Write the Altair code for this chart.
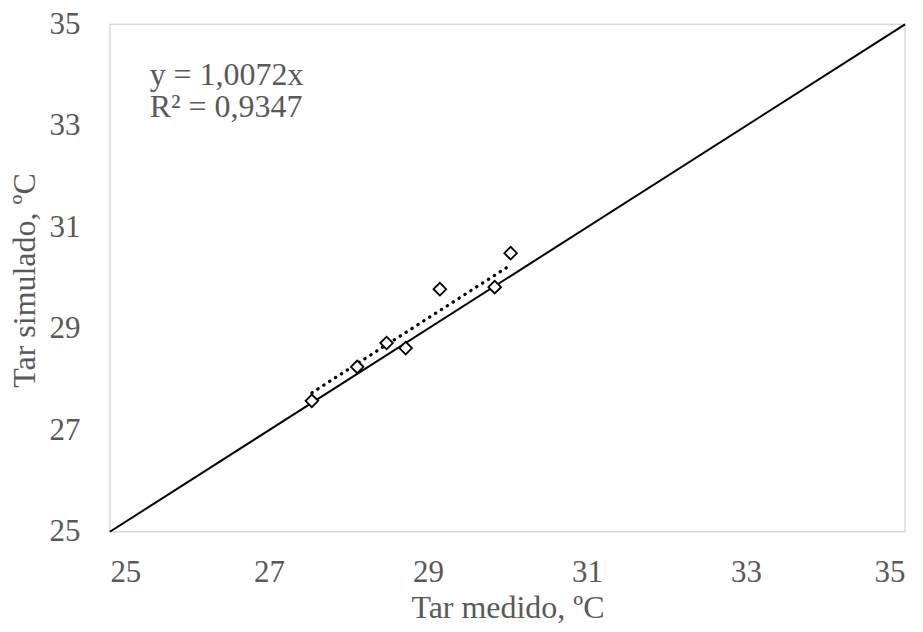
import altair as alt
import pandas as pd

# Data
measured = [27.54, 28.11, 28.48, 28.72, 29.15, 29.84, 30.04]
simulated = [27.58, 28.25, 28.72, 28.62, 29.78, 29.82, 30.49]
slope = 1.0072
identity_x = [25, 35]
x_ticks = [25, 27, 29, 31, 33, 35]
y_ticks = [25, 27, 29, 31, 33, 35]
eq_lines = ["y = 1,0072x", "R² = 0,9347"]

FONT = "Liberation Serif"
GRAY = "#595959"
LFS = 31
TFS = 32

pts = pd.DataFrame({"x": measured, "y": simulated})
ident = pd.DataFrame({"x": identity_x, "y": identity_x})
trend_x = [min(measured), max(measured)]
trend = pd.DataFrame({"x": trend_x, "y": [slope * v for v in trend_x]})
eq = pd.DataFrame({"x": [25.5, 25.5], "y": [33.80, 33.17], "t": eq_lines})

xs = alt.Scale(domain=[25, 35], nice=False, zero=False)
ys = alt.Scale(domain=[25, 35], nice=False, zero=False)

xax = alt.Axis(values=x_ticks, format="d", title="Tar medido, ºC", grid=False, ticks=False,
               domain=False, labelPadding=50, labelBaseline="alphabetic",
               titleBaseline="alphabetic", titleY=86)
yax = alt.Axis(values=y_ticks, format="d", title="Tar simulado, ºC", grid=False, ticks=False,
               domain=False, labelPadding=30, titleBaseline="alphabetic",
               titleX=-75, titleY=256, titleAngle=270)

line = alt.Chart(ident).mark_line(color="black", strokeWidth=2).encode(
    x=alt.X("x:Q", scale=xs, axis=xax), y=alt.Y("y:Q", scale=ys, axis=yax))

tr = alt.Chart(trend).mark_line(color="black", strokeWidth=3.2, strokeDash=[0.5, 6.5],
                                strokeCap="round").encode(x="x:Q", y="y:Q")

points = alt.Chart(pts).mark_point(shape="diamond", size=160, filled=True, fill="white",
                                   stroke="black", strokeWidth=1.8, opacity=1).encode(
    x="x:Q", y="y:Q")

txt = alt.Chart(eq).mark_text(align="left", baseline="alphabetic", font=FONT, fontSize=TFS,
                              color=GRAY).encode(x="x:Q", y="y:Q", text="t:N")

chart = alt.layer(line, tr, points, txt).properties(
    width=796, height=508,
    autosize=alt.AutoSizeParams(type="none"),
    padding={"left": 102, "top": 16, "right": 10, "bottom": 92},
).configure_view(stroke="#d9d9d9", strokeWidth=1.5).configure_axis(
    labelFont=FONT, titleFont=FONT, labelFontSize=LFS, titleFontSize=TFS,
    labelColor=GRAY, titleColor=GRAY, titleFontWeight="normal"
)

chart.save("out.html", embed_options={"renderer": "svg", "actions": False})
